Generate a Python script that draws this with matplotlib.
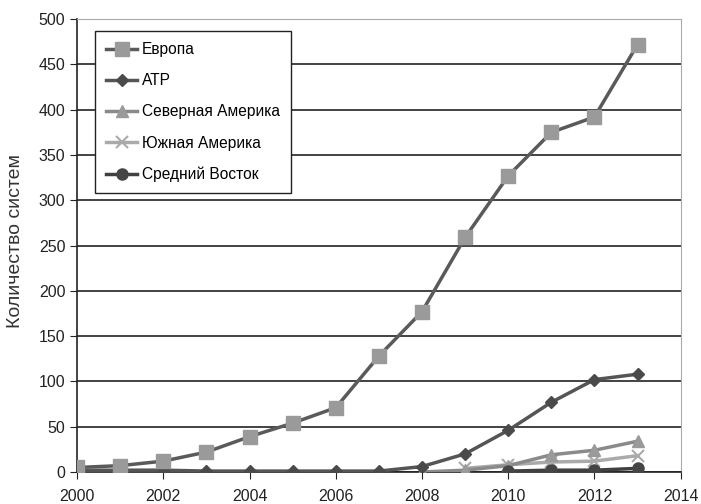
import matplotlib
matplotlib.use("Agg")
import matplotlib.pyplot as plt

plt.rcParams['font.family'] = ['Liberation Sans', 'DejaVu Sans']

years_eu = [2000, 2001, 2002, 2003, 2004, 2005, 2006, 2007, 2008, 2009, 2010, 2011, 2012, 2013]
europe = [5, 7, 12, 22, 39, 54, 71, 128, 177, 259, 327, 375, 392, 472]
years_apr = [2000, 2001, 2002, 2003, 2004, 2005, 2006, 2007, 2008, 2009, 2010, 2011, 2012, 2013]
apr = [2, 2, 2, 1, 1, 1, 1, 1, 6, 20, 46, 77, 102, 108]
years_na = [2008, 2009, 2010, 2011, 2012, 2013]
north_america = [0, 2, 7, 19, 24, 34]
years_sa = [2009, 2010, 2011, 2012, 2013]
south_america = [4, 8, 11, 12, 18]
years_me = [2010, 2011, 2012, 2013]
middle_east = [1, 2, 2, 4]

labels = ['Европа', 'АТР', 'Северная Америка', 'Южная Америка', 'Средний Восток']

fig = plt.figure(figsize=(7.01, 5.04), dpi=100)
ax = fig.add_axes([0.110, 0.0635, 0.861, 0.8985])

ax.plot(years_eu, europe, color='#5a5a5a', lw=2.5, marker='s', ms=10,
        mfc='#9a9a9a', mec='#9a9a9a', label=labels[0], zorder=5)
ax.plot(years_apr, apr, color='#555555', lw=2.5, marker='D', ms=6,
        mfc='#4a4a4a', mec='#4a4a4a', label=labels[1], zorder=4)
ax.plot(years_na, north_america, color='#8a8a8a', lw=2.5, marker='^', ms=9,
        mfc='#9a9a9a', mec='#9a9a9a', label=labels[2], zorder=3)
ax.plot(years_sa, south_america, color='#aaaaaa', lw=2.5, marker='x', ms=9,
        mew=1.5, mec='#aaaaaa', label=labels[3], zorder=2)
ax.plot(years_me, middle_east, color='#404040', lw=2.5, marker='o', ms=8,
        mfc='#454545', mec='#454545', label=labels[4], zorder=6)

ax.set_xlim(2000, 2014)
ax.set_ylim(0, 500)
ax.set_xticks(range(2000, 2015, 2))
ax.set_yticks(range(0, 501, 50))
ax.yaxis.grid(True, color='#222222', lw=1.2)
ax.set_axisbelow(True)

for s in ['top', 'right']:
    ax.spines[s].set_color('#aaaaaa')
ax.spines['left'].set_color('#222222')
ax.spines['bottom'].set_color('#222222')
ax.spines['left'].set_linewidth(1.2)
ax.spines['bottom'].set_linewidth(1.2)

ax.tick_params(axis='both', labelsize=11.5, colors='#222222', direction='out', length=5)
ax.tick_params(axis='x', pad=7)
ax.set_ylabel('Количество систем', fontsize=14, color='#333333')
ax.yaxis.set_label_coords(-0.088, 0.51)

leg = ax.legend(loc='upper left', bbox_to_anchor=(0.030, 0.9735), fontsize=11.2,
                frameon=True, fancybox=False, edgecolor='#222222', framealpha=1,
                handlelength=2.0, labelspacing=1.04, borderpad=0.7, handletextpad=0.3,
                borderaxespad=0)
leg.get_frame().set_linewidth(1.0)

fig.savefig('out.png', dpi=100)
